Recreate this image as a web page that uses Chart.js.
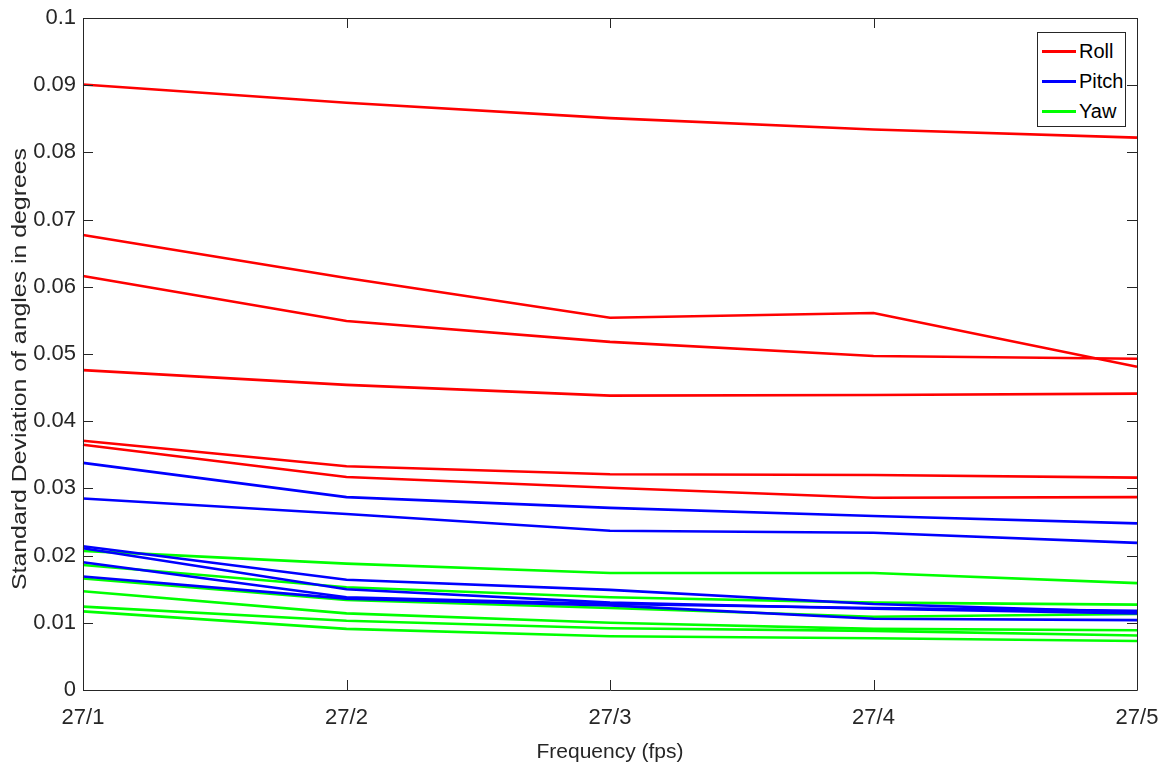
<!DOCTYPE html>
<html>
<head>
<meta charset="utf-8">
<script src="https://cdn.jsdelivr.net/npm/chart.js@4"></script>
<style>
  html, body { margin: 0; padding: 0; background: #fff; }
  #wrap { position: relative; width: 1165px; height: 769px; }
  #legend {
    position: absolute; left: 1037px; top: 32px; width: 87px; height: 93px;
    border: 1px solid #262626; background: #fff;
    font-family: "Liberation Sans", Arial, sans-serif; font-size: 20px; color: #000;
  }
  .item { position: absolute; left: 3px; height: 24px; line-height: 24px; }
  .item span.ln { position: absolute; left: 1px; top: 11px; width: 34px; height: 2.5px; }
  .item span.tx { position: absolute; left: 38px; top: 0; white-space: nowrap; }
</style>
</head>
<body>
<div id="wrap">
  <canvas id="chart" width="1165" height="769"></canvas>
  <div id="legend"></div>
</div>
<script>
// x categories
const categories = ["27/1", "27/2", "27/3", "27/4", "27/5"];

// Roll (red)
const roll1 = [0.0901, 0.0874, 0.0851, 0.0834, 0.0822];
const roll2 = [0.0677, 0.0613, 0.0554, 0.0561, 0.0481];
const roll3 = [0.0616, 0.0549, 0.0518, 0.0497, 0.0493];
const roll4 = [0.0476, 0.0454, 0.0438, 0.0439, 0.0441];
const roll5 = [0.0371, 0.0333, 0.0321, 0.0320, 0.0316];
const roll6 = [0.0365, 0.0317, 0.0301, 0.0286, 0.0287];

// Pitch (blue)
const pitch1 = [0.0338, 0.0287, 0.0271, 0.0259, 0.0248];
const pitch2 = [0.0285, 0.0262, 0.0237, 0.0234, 0.0219];
const pitch3 = [0.0214, 0.0164, 0.0149, 0.0128, 0.0116];
const pitch4 = [0.0211, 0.0150, 0.0130, 0.0121, 0.0114];
const pitch5 = [0.0190, 0.0138, 0.0128, 0.0122, 0.0118];
const pitch6 = [0.0169, 0.0136, 0.0126, 0.0106, 0.0104];

// Yaw (green)
const yaw1 = [0.0207, 0.0188, 0.0174, 0.0174, 0.0159];
const yaw2 = [0.0186, 0.0153, 0.0138, 0.0130, 0.0127];
const yaw3 = [0.0166, 0.0134, 0.0122, 0.0109, 0.0113];
const yaw4 = [0.0147, 0.0114, 0.0100, 0.0091, 0.0089];
const yaw5 = [0.0124, 0.0103, 0.0092, 0.0088, 0.0081];
const yaw6 = [0.0117, 0.0091, 0.0080, 0.0077, 0.0073];

const yTicks = [0, 0.01, 0.02, 0.03, 0.04, 0.05, 0.06, 0.07, 0.08, 0.09, 0.1];
const yTitle = "Standard Deviation of angles in degrees";

const groups = [
  { name: "Roll", color: "#ff0000", series: [roll1, roll2, roll3, roll4, roll5, roll6] },
  { name: "Pitch", color: "#0000ff", series: [pitch1, pitch2, pitch3, pitch4, pitch5, pitch6] },
  { name: "Yaw", color: "#00ff00", series: [yaw1, yaw2, yaw3, yaw4, yaw5, yaw6] },
];

const datasets = [];
groups.forEach((g) => {
  g.series.forEach((s) => {
    datasets.push({
      label: g.name,
      data: s,
      borderColor: g.color,
      backgroundColor: g.color,
      borderWidth: 2.6,
      pointRadius: 0,
      tension: 0,
      fill: false,
    });
  });
});

// html legend, one entry per group
const legendDiv = document.getElementById("legend");
groups.forEach((g, i) => {
  const it = document.createElement("div");
  it.className = "item";
  it.style.top = (6 + i * 30) + "px";
  it.innerHTML = `<span class="ln" style="background:${g.color}"></span><span class="tx">${g.name}</span>`;
  legendDiv.appendChild(it);
});

// MATLAB style box with inward ticks, plus the stretched y label
const boxTicks = {
  id: "boxTicks",
  afterDraw(chart) {
    const { ctx, chartArea } = chart;
    const { left, right, top, bottom } = chartArea;
    const xs = chart.scales.x, ys = chart.scales.y;
    ctx.save();
    ctx.strokeStyle = "#262626";
    ctx.lineWidth = 1;
    ctx.beginPath();
    ctx.rect(Math.round(left) + 0.5, Math.round(top) + 0.5, Math.round(right - left), Math.round(bottom - top));
    yTicks.forEach((v) => {
      const y = Math.round(ys.getPixelForValue(v)) + 0.5;
      ctx.moveTo(left, y); ctx.lineTo(left + 10, y);
      ctx.moveTo(right, y); ctx.lineTo(right - 10, y);
    });
    categories.forEach((c, i) => {
      const x = Math.round(xs.getPixelForValue(i)) + 0.5;
      ctx.moveTo(x, bottom); ctx.lineTo(x, bottom - 10);
      ctx.moveTo(x, top); ctx.lineTo(x, top + 10);
    });
    ctx.stroke();

    // y title, drawn long like in the source figure
    ctx.font = "19.5px 'Liberation Sans', Arial, sans-serif";
    ctx.fillStyle = "#262626";
    ctx.textAlign = "center";
    ctx.textBaseline = "alphabetic";
    const w = ctx.measureText(yTitle).width;
    ctx.translate(26, 369);
    ctx.rotate(-Math.PI / 2);
    ctx.scale(442 / w, 1);
    ctx.fillText(yTitle, 0, 0);
    ctx.restore();
  },
};

const tickFont = { family: "'Liberation Sans', Arial, sans-serif", size: 22 };

new Chart(document.getElementById("chart").getContext("2d"), {
  type: "line",
  data: { labels: categories, datasets: datasets },
  options: {
    responsive: false,
    animation: false,
    layout: { padding: { top: 18, right: 28, left: 0, bottom: 0 } },
    plugins: {
      legend: { display: false },
      tooltip: { enabled: false },
    },
    scales: {
      x: {
        offset: false,
        grid: { display: false, drawTicks: false },
        border: { display: false },
        ticks: { color: "#262626", font: tickFont, padding: 15, maxRotation: 0, autoSkip: false },
        title: {
          display: true,
          text: "Frequency (fps)",
          color: "#262626",
          font: { family: "'Liberation Sans', Arial, sans-serif", size: 21 },
          padding: { top: 0, bottom: 4 },
        },
        afterFit: (s) => { s.height = 79; s.paddingLeft = 0; s.paddingRight = 0; },
      },
      y: {
        min: 0,
        max: 0.1,
        grid: { display: false, drawTicks: false },
        border: { display: false },
        afterBuildTicks: (s) => { s.ticks = yTicks.map((v) => ({ value: v })); },
        ticks: {
          color: "#262626",
          font: tickFont,
          padding: 7,
          callback: (v) => String(Number(v.toFixed(2))),
        },
        afterFit: (s) => { s.width = 83; s.paddingTop = 0; s.paddingBottom = 0; },
      },
    },
  },
  plugins: [boxTicks],
});
</script>
</body>
</html>
